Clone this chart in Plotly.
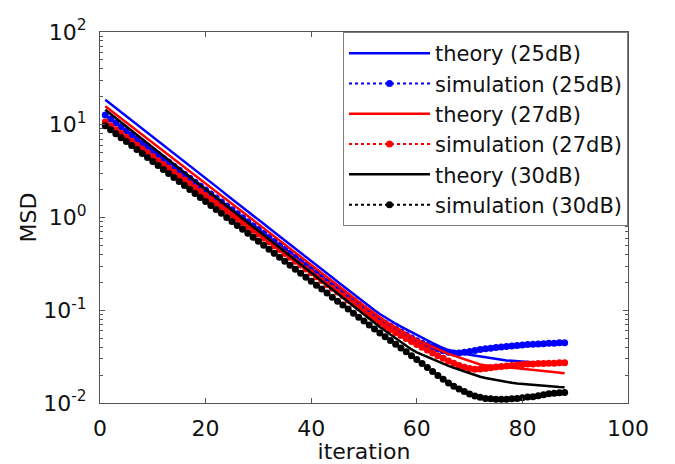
import plotly.graph_objects as go

# iterations 1..88
iterations = list(range(1, 89))

theory_25 = [18.6, 16.8, 15.1, 13.7, 12.4, 11.1, 10.0, 9.08, 8.18, 7.40,
             6.67, 6.01, 5.43, 4.90, 4.43, 3.99, 3.60, 3.25, 2.93, 2.65,
             2.39, 2.15, 1.95, 1.75, 1.585, 1.43, 1.29, 1.16, 1.05, 0.948,
             0.855, 0.771, 0.697, 0.628, 0.568, 0.512, 0.461, 0.417, 0.376, 0.340,
             0.306, 0.276, 0.249, 0.225, 0.203, 0.183, 0.165, 0.149, 0.135, 0.122,
             0.110, 0.100, 0.0912, 0.0838, 0.0773, 0.0716, 0.0665, 0.0619, 0.0578, 0.0541,
             0.0506, 0.0473, 0.0442, 0.0413, 0.0390, 0.0372, 0.0359, 0.0351, 0.0339, 0.0331,
             0.0324, 0.0316, 0.0309, 0.0305, 0.0299, 0.0295, 0.0288, 0.0285, 0.0282, 0.0279,
             0.0275, 0.0275, 0.0272, 0.0272, 0.0269, 0.0269, 0.0266, 0.0266]

simulation_25 = [12.7, 11.5, 10.5, 9.49, 8.61, 7.80, 7.06, 6.41, 5.81, 5.27,
                 4.78, 4.33, 3.93, 3.56, 3.23, 2.92, 2.65, 2.40, 2.18, 1.98,
                 1.79, 1.62, 1.47, 1.33, 1.21, 1.10, 0.993, 0.902, 0.817, 0.741,
                 0.671, 0.608, 0.552, 0.500, 0.454, 0.411, 0.372, 0.338, 0.306, 0.278,
                 0.252, 0.228, 0.207, 0.187, 0.170, 0.154, 0.140, 0.127, 0.115, 0.104,
                 0.0944, 0.0857, 0.0780, 0.0722, 0.0671, 0.0625, 0.0581, 0.0541, 0.0502, 0.0468,
                 0.0440, 0.0418, 0.0399, 0.0381, 0.0365, 0.0352, 0.0346, 0.0347, 0.0353, 0.0360,
                 0.0369, 0.0378, 0.0385, 0.0389, 0.0396, 0.0402, 0.0407, 0.0412, 0.0417, 0.0421,
                 0.0426, 0.0430, 0.0432, 0.0436, 0.0440, 0.0442, 0.0446, 0.0447]

theory_27 = [15.8, 14.3, 12.9, 11.7, 10.6, 9.57, 8.65, 7.82, 7.07, 6.38,
             5.78, 5.22, 4.72, 4.27, 3.85, 3.48, 3.15, 2.85, 2.58, 2.33,
             2.10, 1.90, 1.72, 1.55, 1.41, 1.27, 1.15, 1.04, 0.938, 0.847,
             0.766, 0.693, 0.627, 0.566, 0.512, 0.462, 0.418, 0.378, 0.342, 0.309,
             0.279, 0.252, 0.228, 0.206, 0.186, 0.169, 0.152, 0.138, 0.124, 0.112,
             0.102, 0.0920, 0.0832, 0.0764, 0.0704, 0.0650, 0.0601, 0.0556, 0.0515, 0.0481,
             0.0452, 0.0426, 0.0402, 0.0379, 0.0358, 0.0339, 0.0324, 0.0309, 0.0295, 0.0282,
             0.0270, 0.0260, 0.0255, 0.0251, 0.0248, 0.0245, 0.0243, 0.0240, 0.0237, 0.0233,
             0.0230, 0.0227, 0.0224, 0.0221, 0.0218, 0.0215, 0.0212, 0.0209]

simulation_27 = [10.7, 9.73, 8.85, 8.04, 7.29, 6.64, 6.03, 5.47, 4.97, 4.52,
                 4.10, 3.72, 3.39, 3.08, 2.79, 2.54, 2.31, 2.09, 1.91, 1.73,
                 1.57, 1.43, 1.30, 1.18, 1.07, 0.973, 0.883, 0.802, 0.730, 0.662,
                 0.601, 0.547, 0.497, 0.451, 0.410, 0.372, 0.338, 0.308, 0.279, 0.254,
                 0.230, 0.209, 0.190, 0.173, 0.157, 0.143, 0.129, 0.118, 0.107, 0.0971,
                 0.0883, 0.0802, 0.0727, 0.0670, 0.0620, 0.0575, 0.0534, 0.0496, 0.0460, 0.0427,
                 0.0398, 0.0372, 0.0347, 0.0324, 0.0303, 0.0284, 0.0268, 0.0254, 0.0243, 0.0235,
                 0.0231, 0.0232, 0.0235, 0.0240, 0.0245, 0.0248, 0.0251, 0.0254, 0.0257, 0.0260,
                 0.0263, 0.0263, 0.0266, 0.0266, 0.0269, 0.0269, 0.0272, 0.0272]

theory_30 = [14.5, 13.0, 11.7, 10.6, 9.55, 8.61, 7.76, 7.00, 6.31, 5.69,
             5.13, 4.62, 4.17, 3.76, 3.39, 3.05, 2.75, 2.48, 2.24, 2.02,
             1.82, 1.64, 1.48, 1.33, 1.20, 1.08, 0.977, 0.881, 0.794, 0.716,
             0.646, 0.582, 0.525, 0.473, 0.427, 0.385, 0.347, 0.313, 0.282, 0.254,
             0.229, 0.207, 0.186, 0.168, 0.151, 0.136, 0.123, 0.111, 0.100, 0.0902,
             0.0813, 0.0733, 0.0661, 0.0600, 0.0546, 0.0497, 0.0453, 0.0413, 0.0378, 0.0352,
             0.0332, 0.0314, 0.0297, 0.0281, 0.0265, 0.0251, 0.0240, 0.0229, 0.0219, 0.0209,
             0.0200, 0.0192, 0.0186, 0.0181, 0.0177, 0.0173, 0.0169, 0.0165, 0.0162, 0.0160,
             0.0158, 0.0157, 0.0155, 0.0153, 0.0151, 0.0150, 0.0149, 0.0148]

simulation_30 = [9.77, 8.85, 8.02, 7.26, 6.58, 5.96, 5.40, 4.89, 4.43, 4.01,
                 3.63, 3.29, 2.98, 2.70, 2.44, 2.21, 2.00, 1.82, 1.64, 1.49,
                 1.35, 1.22, 1.11, 1.00, 0.908, 0.822, 0.745, 0.675, 0.611, 0.553,
                 0.501, 0.454, 0.411, 0.372, 0.337, 0.305, 0.277, 0.251, 0.227, 0.206,
                 0.186, 0.169, 0.153, 0.138, 0.125, 0.114, 0.103, 0.0931, 0.0843, 0.0764,
                 0.0692, 0.0627, 0.0569, 0.0518, 0.0471, 0.0430, 0.0391, 0.0356, 0.0324, 0.0295,
                 0.0267, 0.0242, 0.0219, 0.0198, 0.0180, 0.0164, 0.0152, 0.0142, 0.0133, 0.0125,
                 0.0119, 0.0115, 0.0112, 0.0111, 0.0110, 0.0110, 0.0110, 0.0111, 0.0112, 0.0114,
                 0.0116, 0.0117, 0.0120, 0.0123, 0.0126, 0.0127, 0.0129, 0.0130]

series_names = ["theory (25dB)", "simulation (25dB)", "theory (27dB)",
                "simulation (27dB)", "theory (30dB)", "simulation (30dB)"]

x_tick_vals = [0, 20, 40, 60, 80, 100]
x_tick_text = ["0", "20", "40", "60", "80", "100"]
y_tick_vals = [0.01, 0.1, 1, 10, 100]
y_tick_text = ["10<sup>-2</sup>", "10<sup>-1</sup>", "10<sup>0</sup>",
               "10<sup>1</sup>", "10<sup>2</sup>"]

FONT = "DejaVu Sans"
colors = ["#0000ff", "#0000ff", "#ff0000", "#ff0000", "#000000", "#000000"]
data = [theory_25, simulation_25, theory_27, simulation_27, theory_30, simulation_30]

fig = go.Figure()
for k, (name, vals, col) in enumerate(zip(series_names, data, colors)):
    if k % 2 == 0:
        fig.add_trace(go.Scatter(
            x=iterations, y=vals, name=name, mode="lines",
            line=dict(color=col, width=2.5), legendgroup=f"g{k}"))
    else:
        fig.add_trace(go.Scatter(
            x=iterations, y=vals, name=name, mode="lines+markers",
            line=dict(color=col, width=2, dash="dot"),
            marker=dict(color=col, size=7, symbol="circle"),
            legendgroup=f"g{k}"))

axis_common = dict(
    showline=True, linecolor="#555555", linewidth=1, mirror="allticks",
    ticks="inside", ticklen=5, tickcolor="#555555", tickwidth=1,
    showgrid=False, zeroline=False, automargin=False,
    tickfont=dict(family=FONT, size=22, color="#111111"),
)

fig.update_xaxes(
    range=[0, 100], tickmode="array", tickvals=x_tick_vals, ticktext=x_tick_text,
    title=dict(text="iteration", font=dict(family=FONT, size=22, color="#111111"), standoff=4),
    ticklabelstandoff=6,
    **axis_common)

fig.update_yaxes(
    type="log", range=[-2, 2], tickmode="array", tickvals=y_tick_vals, ticktext=y_tick_text,
    title=dict(text="MSD", font=dict(family=FONT, size=22, color="#111111"), standoff=0),
    ticklabelstandoff=8,
    minor=dict(ticks="inside", ticklen=3, tickcolor="#555555", dtick="D1", showgrid=False),
    **axis_common)

# The page body adds an 8px offset, so the figure is 8px smaller and margins shifted.
fig.update_layout(
    width=667, height=456,
    margin=dict(l=92, r=47, t=24, b=61, autoexpand=False),
    paper_bgcolor="white", plot_bgcolor="white",
    showlegend=True,
    legend=dict(
        x=1, y=1, xanchor="right", yanchor="top",
        bgcolor="white", bordercolor="#7f7f7f", borderwidth=1,
        font=dict(family=FONT, size=21, color="#111111"),
        itemwidth=81, tracegroupgap=0,
    ),
)

fig.write_html("out.html")
